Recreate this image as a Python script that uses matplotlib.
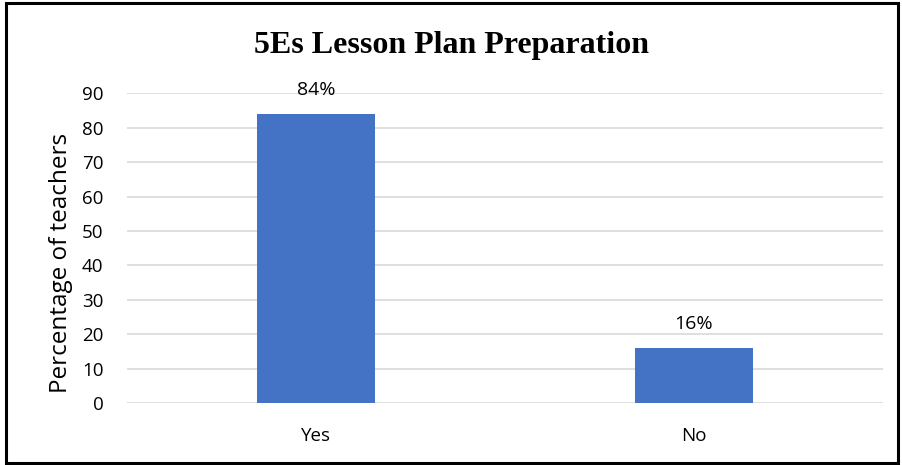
import matplotlib.pyplot as plt
from matplotlib.patches import Rectangle

# Data
categories = ['Yes', 'No']
percentages = [84, 16]
value_labels = ['84%', '16%']
y_ticks = [0, 10, 20, 30, 40, 50, 60, 70, 80, 90]

plt.rcParams['font.family'] = ['Open Sans', 'DejaVu Sans']

fig = plt.figure(figsize=(9.02, 4.65), dpi=100)
ax = fig.add_axes([0.1408, 0.1333, 0.8381, 0.6658])

x = range(len(categories))
bars = ax.bar(x, percentages, width=0.31, color='#4472C4', zorder=3)

ax.set_xlim(-0.5, 1.5)
ax.set_ylim(0, 90)
ax.set_yticks(y_ticks)
ax.set_xticks(list(x))
ax.set_xticklabels(categories)
ax.tick_params(axis='both', length=0, labelsize=13.5, colors='black')
ax.tick_params(axis='x', pad=17)
ax.tick_params(axis='y', pad=17)
ax.yaxis.grid(True, color='#D9D9D9', linewidth=1.2, zorder=0)
for s in ax.spines.values():
    s.set_visible(False)

# value labels above bars
for b, lab in zip(bars, value_labels):
    ax.annotate(lab, (b.get_x() + b.get_width() / 2, b.get_height()),
                xytext=(0, 11), textcoords='offset points',
                ha='center', va='bottom', fontsize=14)

ax.set_ylabel('Percentage of teachers', fontsize=17.5)
ax.yaxis.set_label_coords(-0.0714, 0.452)

fig.text(0.5, 0.902, '5Es Lesson Plan Preparation', ha='center', va='center',
         fontsize=23, fontweight='bold', family='Liberation Serif')

# frame around the whole chart
fig.patches.append(Rectangle((0.0066, 0.004), 0.9890, 0.990, transform=fig.transFigure,
                             fill=False, edgecolor='black', linewidth=2.2))

fig.savefig('out.png', dpi=100)
